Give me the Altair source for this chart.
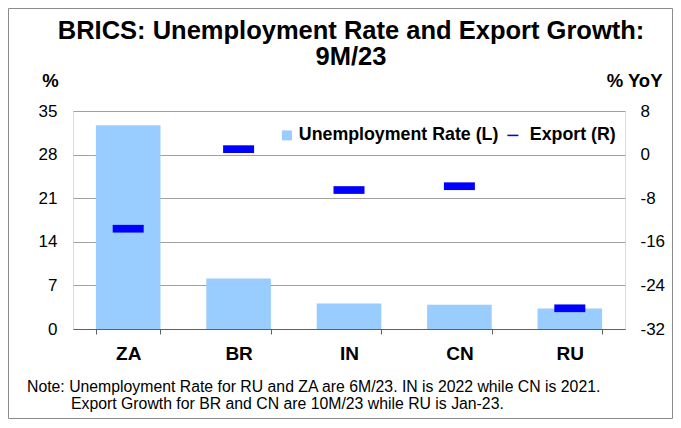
import altair as alt
import pandas as pd

countries = ["ZA", "BR", "IN", "CN", "RU"]
unemployment = [32.7, 8.1, 4.1, 3.9, 3.3]
export_growth = [-13.6, 1.0, -6.5, -5.8, -28.2]

left_ticks = [0, 7, 14, 21, 28, 35]
right_ticks = [-32, -24, -16, -8, 0, 8]

title_line1 = "BRICS: Unemployment Rate and Export Growth:"
title_line2 = "9M/23"
note_line1 = "Note: Unemployment Rate for RU and ZA are 6M/23. IN is 2022 while CN is 2021."
note_line2 = "Export Growth for BR and CN are 10M/23 while RU is Jan-23."
bar_series = "Unemployment Rate (L)"
tick_series = "Export (R)"

FONT = "Liberation Sans"
W, H = 552, 218
PAD = {"left": 65, "top": 103, "right": 48, "bottom": 90}

df = pd.DataFrame({
    "country": countries,
    "unemployment": unemployment,
    "export": export_growth,
    "s1": [bar_series] * len(countries),
    "s2": [tick_series] * len(countries),
})
one = pd.DataFrame({"a": [0]})

x_enc = alt.X(
    "country:N",
    sort=countries,
    title=None,
    scale=alt.Scale(paddingInner=0.415, paddingOuter=0.2075),
    axis=alt.Axis(
        labelAngle=0, labelFontSize=19, labelFontWeight="bold", labelColor="black",
        labelFont=FONT, labelBaseline="alphabetic", labelPadding=25,
        tickBand="extent", ticks=True, tickSize=5, tickColor="#606060",
        domainColor="#606060", grid=False,
    ),
)

bars = alt.Chart(df).mark_bar(color="#99CCFF", opacity=1).encode(
    x=x_enc,
    y=alt.Y(
        "unemployment:Q",
        scale=alt.Scale(domain=[0, 35], nice=False, zero=True),
        axis=alt.Axis(
            values=left_ticks, orient="left", grid=True, gridColor="#a0a0a0",
            domain=False, ticks=False, labelPadding=16, labelFontSize=17,
            labelColor="black", labelFont=FONT,
            title="%", titleAngle=0, titleX=-23, titleY=-25, titleAlign="center",
            titleBaseline="alphabetic", titleFontSize=18.5, titleFont=FONT,
            titleFontWeight="bold", titleColor="black",
        ),
    ),
    fill=alt.Fill(
        "s1:N",
        scale=alt.Scale(domain=[bar_series], range=["#99CCFF"]),
        legend=alt.Legend(
            title=None, orient="none", legendX=205, legendY=15.5, padding=0,
            symbolType="square", symbolSize=100, symbolStrokeWidth=0,
            symbolOpacity=1, labelLimit=0,
            labelOffset=3, labelFontSize=17.8, labelFontWeight="bold",
            labelFont=FONT, labelColor="black",
        ),
    ),
)

ticks = alt.Chart(df).mark_tick(thickness=7.7, size=31, opacity=1).encode(
    x=alt.X("country:N", sort=countries),
    y=alt.Y(
        "export:Q",
        scale=alt.Scale(domain=[-32, 8], nice=False, zero=False),
        axis=alt.Axis(
            values=right_ticks, orient="right", grid=False, domain=False,
            ticks=False, labelPadding=15, labelFontSize=17, labelColor="black",
            labelFont=FONT, labelExpr="'' + datum.value",
            title="% YoY", titleAngle=0, titleX=37, titleY=-25, titleAlign="right",
            titleBaseline="alphabetic", titleFontSize=18.5, titleFont=FONT,
            titleFontWeight="bold", titleColor="black",
        ),
    ),
    color=alt.Color(
        "s2:N",
        scale=alt.Scale(domain=[tick_series], range=["#0000FF"]),
        legend=alt.Legend(
            title=None, orient="none", legendX=431, legendY=15.5, padding=0,
            symbolType="M-1,-0.14L1,-0.14L1,0.14L-1,0.14Z", symbolSize=121,
            symbolStrokeWidth=0, symbolOpacity=1, labelLimit=0,
            labelOffset=8, labelFontSize=17.8,
            labelFontWeight="bold", labelFont=FONT, labelColor="black",
        ),
    ),
)

def text_layer(txt, x, y, size, weight="normal", align="left"):
    return alt.Chart(one).mark_text(
        align=align, baseline="alphabetic", fontSize=size, font=FONT,
        fontWeight=weight, color="black",
    ).encode(x=alt.value(x), y=alt.value(y), text=alt.value(txt))

title1 = text_layer(title_line1, W / 2 + 2, -72, 25.5, "bold", "center")
title2 = text_layer(title_line2, W / 2 + 2, -46, 25.5, "bold", "center")
note1 = text_layer(note_line1, -46, 281, 15.8)
note2 = text_layer(note_line2, -2, 298, 15.8)

border = alt.Chart(one).mark_rect(
    fill="transparent", stroke="#8c8c8c", strokeWidth=1
).encode(
    x=alt.value(-PAD["left"] + 0.5),
    x2=alt.value(W + PAD["right"] - 0.5),
    y=alt.value(-PAD["top"] + 0.5),
    y2=alt.value(H + PAD["bottom"] - 0.5),
)

chart = (
    alt.layer(bars, ticks, title1, title2, note1, note2, border)
    .resolve_scale(y="independent")
    .properties(
        width=W, height=H,
        autosize=alt.AutoSizeParams(type="none"),
        padding=PAD,
    )
    .configure_view(stroke="transparent")
    .configure(background="white")
)

chart.save("out.html", embed_options={"renderer": "svg", "actions": False})
